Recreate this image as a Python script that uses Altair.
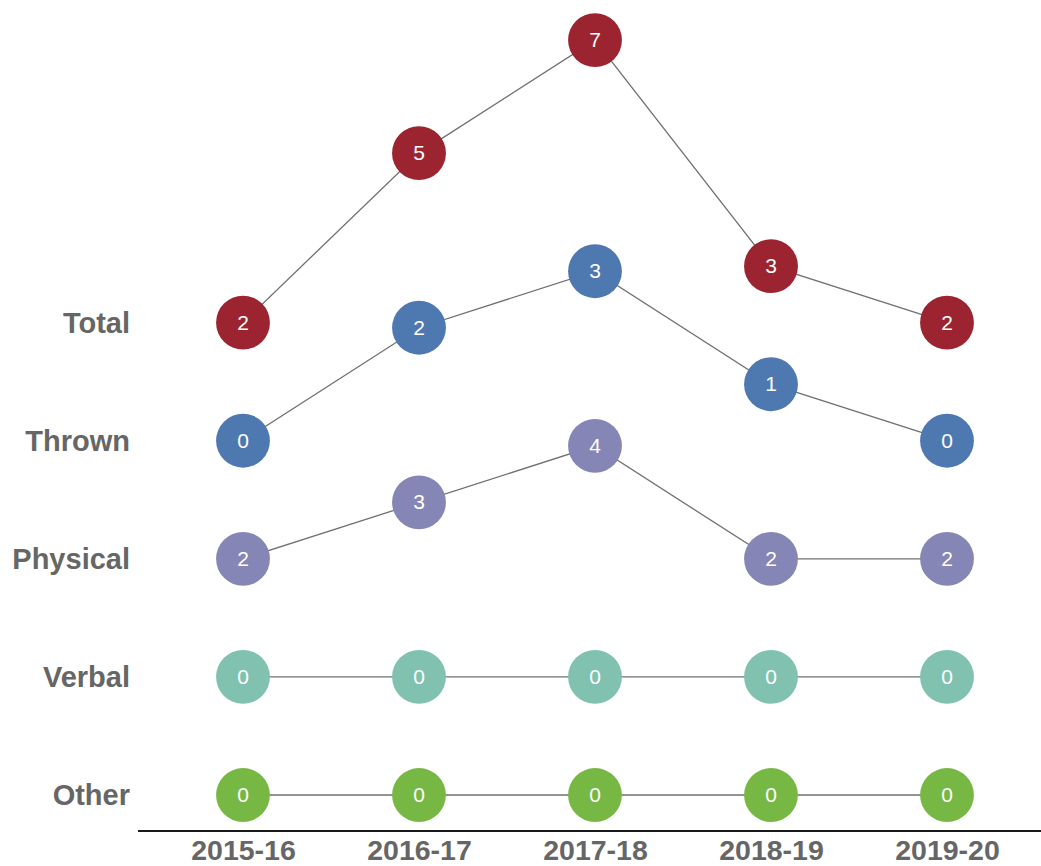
import altair as alt
import pandas as pd

years = ["2015-16", "2016-17", "2017-18", "2018-19", "2019-20"]
categories = ["Total", "Thrown", "Physical", "Verbal", "Other"]
total = [2, 5, 7, 3, 2]
thrown = [0, 2, 3, 1, 0]
physical = [2, 3, 4, 2, 2]
verbal = [0, 0, 0, 0, 0]
other = [0, 0, 0, 0, 0]
colors = ["#9B2430", "#4E79B0", "#8586B5", "#80C2AF", "#76B843"]

series = [total, thrown, physical, verbal, other]
GAP = 2.09
n = len(categories)
rows = []
for i, (cat, vals) in enumerate(zip(categories, series)):
    base = (n - 1 - i) * GAP
    lo = min(vals)
    for j, (yr, v) in enumerate(zip(years, vals)):
        rows.append({"category": cat, "year": yr, "order": j, "value": v,
                     "ypos": base + v - lo})
df = pd.DataFrame(rows)
labels_df = pd.DataFrame({"category": categories,
                          "ypos": [(n - 1 - i) * GAP for i in range(n)]})

FONT = "Liberation Sans"
xenc = alt.X("year:O",
             scale=alt.Scale(type="point", domain=years, range=[105, 809], padding=0),
             axis=alt.Axis(title=None, domain=False, ticks=False, labelAngle=0,
                           labelFontSize=28.5, labelFontWeight="bold",
                           labelColor="#666666", labelFont=FONT, labelPadding=19,
                           labelBaseline="middle"))
yenc = alt.Y("ypos:Q", scale=alt.Scale(domain=[-0.637, 14.07]), axis=None)

base = alt.Chart(df)
lines = base.mark_line(color="#707070", strokeWidth=1.3).encode(
    x=xenc, y=yenc, detail="category:N", order="order:Q")
dots = base.mark_circle(size=2900, opacity=1).encode(
    x=xenc, y=yenc,
    color=alt.Color("category:N", scale=alt.Scale(domain=categories, range=colors),
                    legend=None))
nums = base.mark_text(color="white", fontSize=21, font=FONT, baseline="middle",
                      align="center", dy=1).encode(
    x=xenc, y=yenc, text="value:Q")
cat_labels = alt.Chart(labels_df).mark_text(
    align="right", baseline="middle", fontSize=29, fontWeight="bold",
    color="#666666", font=FONT, dy=1).encode(
    x=alt.value(-8), y=yenc, text="category:N")
axis_line = alt.Chart(labels_df).mark_rule(color="#1a1a1a", strokeWidth=1.4).encode(
    x=alt.value(0), x2=alt.value(903), y=alt.value(831))

chart = alt.layer(lines, dots, nums, cat_labels, axis_line).properties(
    width=903, height=831,
    autosize=alt.AutoSizeParams(type="none"),
    padding={"left": 138, "top": 0, "right": 0, "bottom": 35},
).configure_view(stroke=None)

chart.save("out.html", embed_options={"renderer": "svg", "actions": False})
